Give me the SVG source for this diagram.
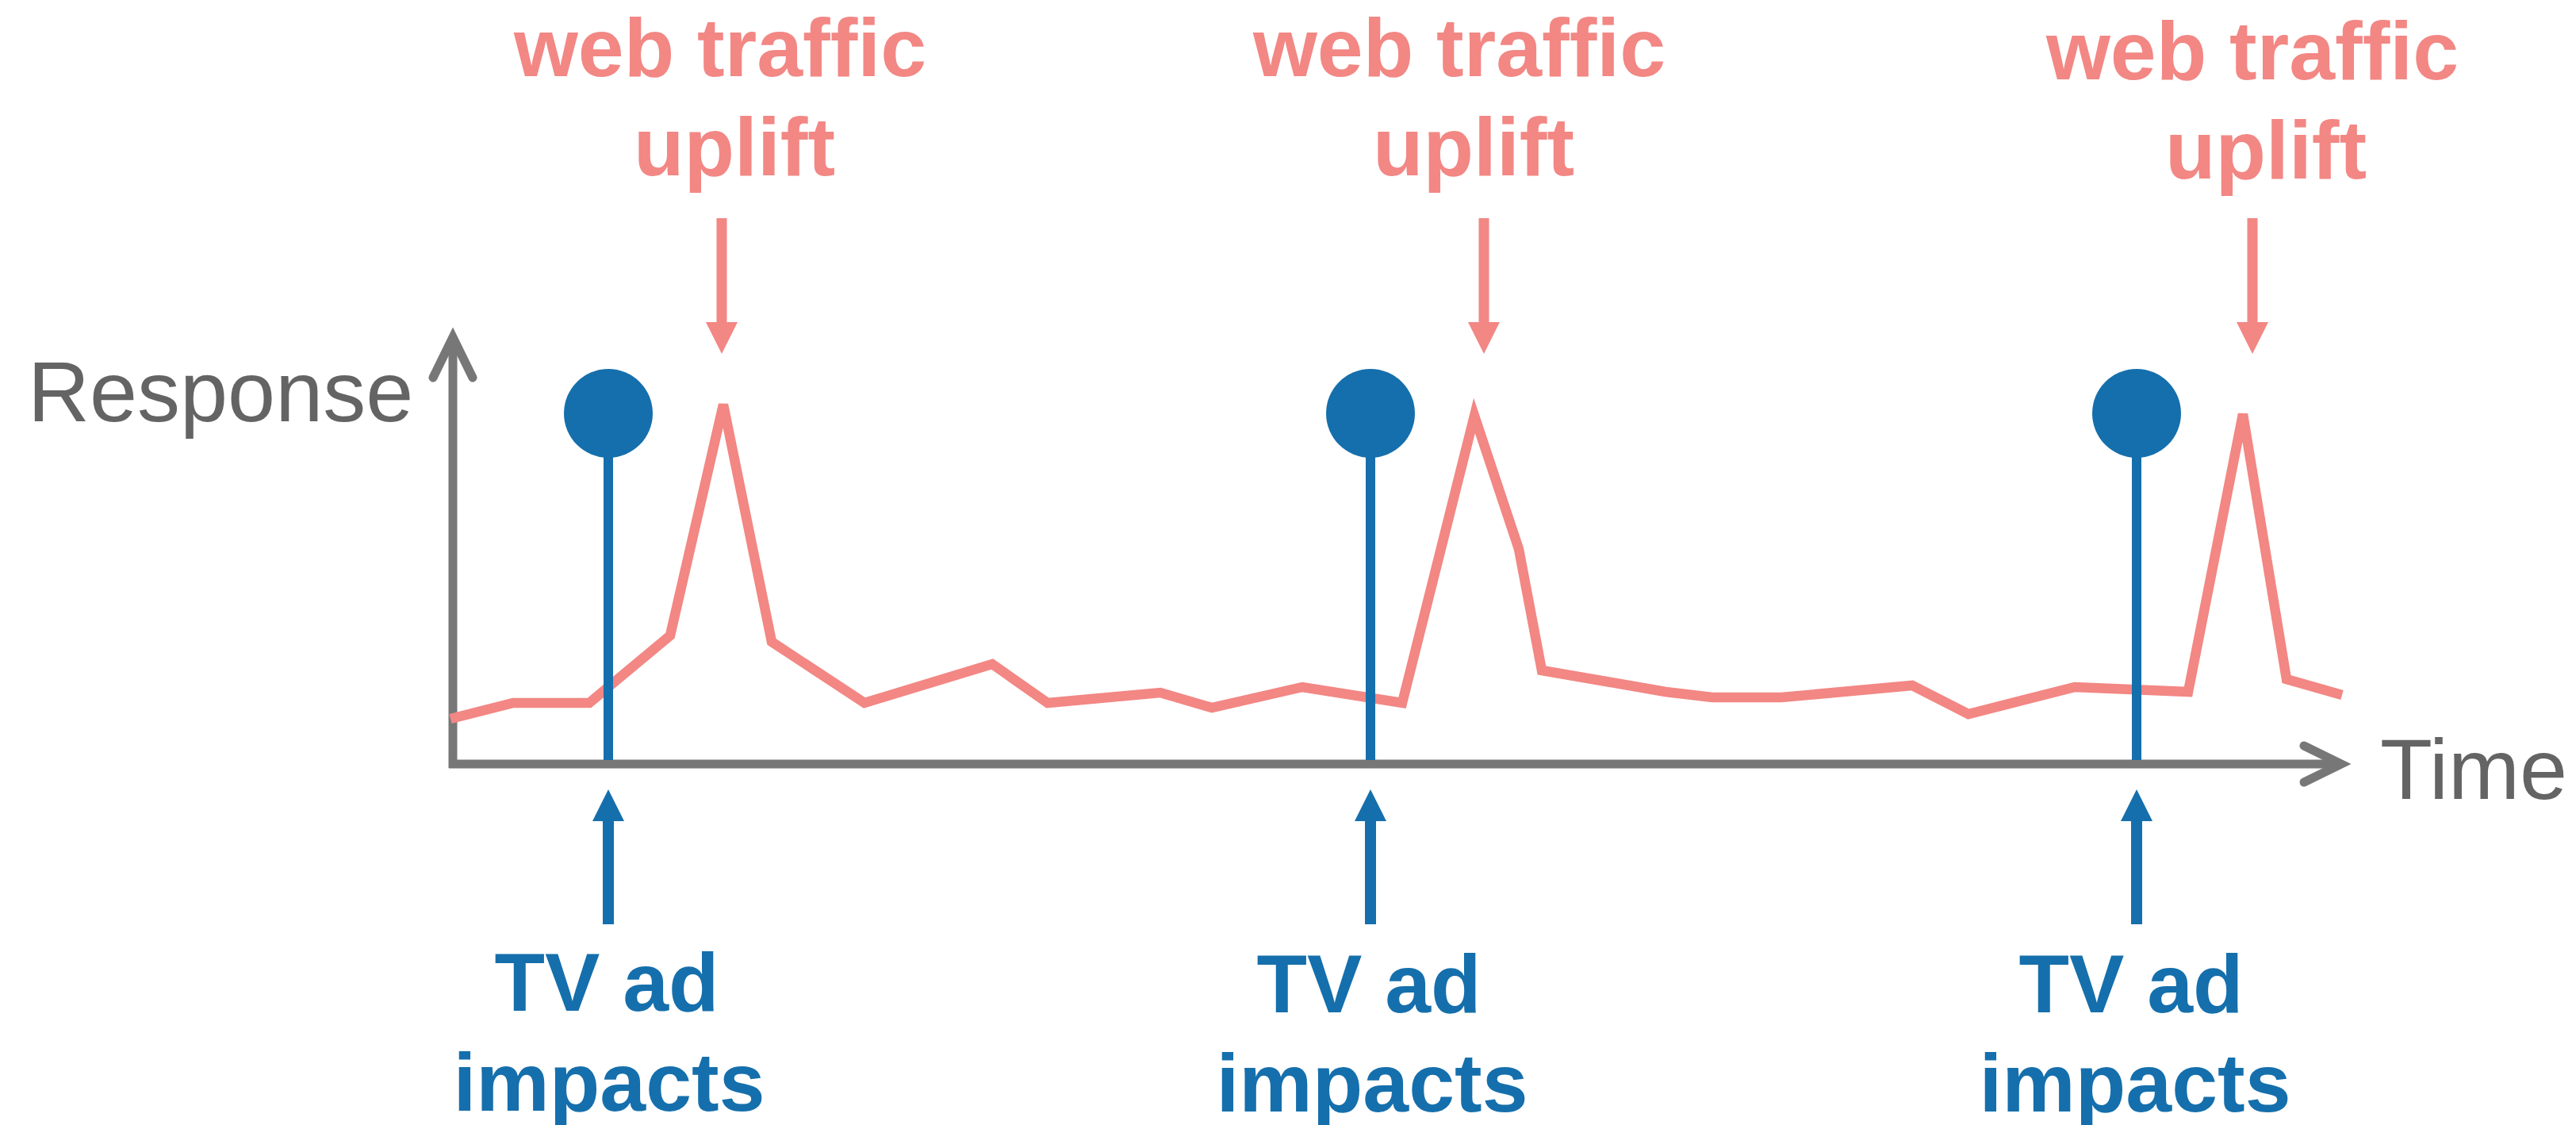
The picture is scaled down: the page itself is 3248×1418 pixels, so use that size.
<svg xmlns="http://www.w3.org/2000/svg" width="3248" height="1418" viewBox="0 0 3248 1418">
  <style>
    .axis { stroke: #777777; stroke-width: 11; fill: none; }
    .chev { stroke: #777777; stroke-width: 11; fill: none; stroke-linecap: round; stroke-linejoin: miter; }
    .axlbl { font-family: "Liberation Sans", Arial, sans-serif; font-size: 108px; fill: #646464; }
    .pink { font-family: "Liberation Sans", Arial, sans-serif; font-weight: bold; font-size: 104px; fill: #f28784; text-anchor: middle; }
    .blue { font-family: "Liberation Sans", Arial, sans-serif; font-weight: bold; font-size: 104px; fill: #156fac; text-anchor: middle; }
    .stem { stroke: #156fac; stroke-width: 12; }
    .dot { fill: #156fac; }
    .uparrow-shaft { stroke: #156fac; stroke-width: 14; }
    .uparrow-head { fill: #156fac; }
    .dn-shaft { stroke: #f28784; stroke-width: 13; }
    .dn-head { fill: #f28784; }
    .series { stroke: #f28784; stroke-width: 12.5; fill: none; stroke-linejoin: miter; }
  </style>

  <g id="axes">
    <line class="axis" x1="571" y1="968" x2="571" y2="426"/>
    <line class="axis" x1="566" y1="963" x2="2950" y2="963"/>
    <polyline class="chev" points="546,476 571,425 596,476"/>
    <polyline class="chev" points="2905,940 2952,963 2905,986"/>
    <text class="axlbl" x="35" y="531">Response</text>
    <text class="axlbl" x="3001" y="1007">Time</text>
  </g>

  <g id="series">
    <polyline class="series" points="568,906 647,886 743,886 845,801 912,510 973,809 1090,886 1251,837 1321,886 1463,873 1528,892 1642,866 1768,886 1859,524 1915,692 1944,845 2031,860 2100,872 2159,879 2246,879 2411,864 2482,900 2616,866 2759,872 2828,522 2883,856 2953,876"/>
  </g>

  <g id="tv-ad-1">
    <line class="stem" x1="767" y1="521" x2="767" y2="958"/>
    <circle class="dot" cx="767" cy="521" r="56"/>
  </g>
  <g id="tv-ad-2">
    <line class="stem" x1="1728" y1="521" x2="1728" y2="958"/>
    <circle class="dot" cx="1728" cy="521" r="56"/>
  </g>
  <g id="tv-ad-3">
    <line class="stem" x1="2694" y1="521" x2="2694" y2="958"/>
    <circle class="dot" cx="2694" cy="521" r="56"/>
  </g>

  <g id="label-uplift-1">
    <text class="pink" x="908" y="96">web traffic</text>
    <text class="pink" x="926" y="221">uplift</text>
  </g>
  <g id="label-uplift-2">
    <text class="pink" x="1840" y="96">web traffic</text>
    <text class="pink" x="1858" y="221">uplift</text>
  </g>
  <g id="label-uplift-3">
    <text class="pink" x="2840" y="100">web traffic</text>
    <text class="pink" x="2857" y="225">uplift</text>
  </g>

  <g id="label-tv-1">
    <text class="blue" x="765" y="1274">TV ad</text>
    <text class="blue" x="768" y="1400">impacts</text>
  </g>
  <g id="label-tv-2">
    <text class="blue" x="1726" y="1276">TV ad</text>
    <text class="blue" x="1730" y="1401">impacts</text>
  </g>
  <g id="label-tv-3">
    <text class="blue" x="2687" y="1276">TV ad</text>
    <text class="blue" x="2692" y="1401">impacts</text>
  </g>

  <g id="connectors">
    <line class="dn-shaft" x1="910" y1="275" x2="910" y2="408"/>
    <polygon class="dn-head" points="890,406 930,406 910,446"/>
    <line class="dn-shaft" x1="1871" y1="275" x2="1871" y2="408"/>
    <polygon class="dn-head" points="1851,406 1891,406 1871,446"/>
    <line class="dn-shaft" x1="2840" y1="275" x2="2840" y2="408"/>
    <polygon class="dn-head" points="2820,406 2860,406 2840,446"/>

    <line class="uparrow-shaft" x1="767" y1="1033" x2="767" y2="1165"/>
    <polygon class="uparrow-head" points="767,995 747,1035 787,1035"/>
    <line class="uparrow-shaft" x1="1728" y1="1033" x2="1728" y2="1165"/>
    <polygon class="uparrow-head" points="1728,995 1708,1035 1748,1035"/>
    <line class="uparrow-shaft" x1="2694" y1="1033" x2="2694" y2="1165"/>
    <polygon class="uparrow-head" points="2694,995 2674,1035 2714,1035"/>
  </g>
</svg>
